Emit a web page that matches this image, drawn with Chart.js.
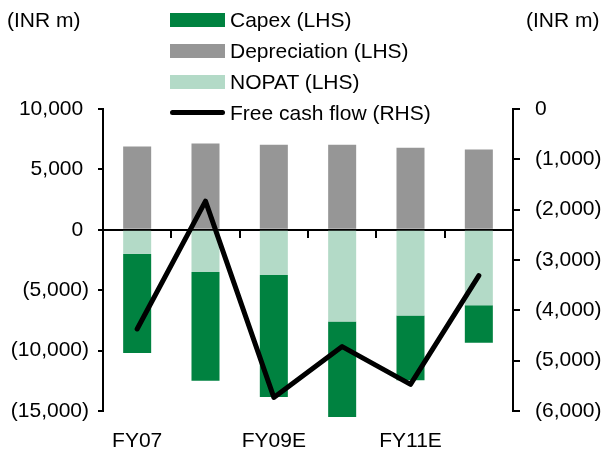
<!DOCTYPE html>
<html>
<head>
<meta charset="utf-8">
<script src="https://cdn.jsdelivr.net/npm/chart.js@4/dist/chart.umd.min.js"></script>
<style>
  html, body { margin: 0; padding: 0; background: #fff; }
  #wrap { position: relative; width: 605px; height: 456px; font-family: "Liberation Sans", Arial, sans-serif; color: #000; }
  #chart { position: absolute; left: 0; top: 0; }
  .unit { position: absolute; top: 8px; font-size: 21px; line-height: 24px; white-space: nowrap; }
  #legend { position: absolute; left: 170px; top: 8px; }
  .item { position: relative; height: 31px; font-size: 21px; line-height: 24px; white-space: nowrap; }
  .item .sw { position: absolute; left: 0; top: 5px; width: 55px; height: 14px; }
  .item .ln { position: absolute; left: 0; top: 9px; width: 55px; height: 5px; border-radius: 3px; }
  .item .tx { position: absolute; left: 60px; top: 0; }
</style>
</head>
<body>
<div id="wrap">
  <canvas id="chart" width="605" height="456"></canvas>
  <div class="unit" style="left:7px">(INR m)</div>
  <div class="unit" style="left:526px">(INR m)</div>
  <div id="legend"></div>
</div>
<script>
// Fiscal years
const categories = ['FY07', 'FY08E', 'FY09E', 'FY10E', 'FY11E', 'FY12E'];
// Left-hand series (INR m)
const capex = [-8200, -9000, -10100, -7900, -5350, -3100];
const depreciation = [6900, 7150, 7050, 7050, 6800, 6650];
const nopat = [-2000, -3500, -3750, -7600, -7100, -6250];
// Right-hand series (INR m)
const freeCashFlow = [-4370, -1830, -5730, -4720, -5470, -3310];

const seriesNames = ['Capex (LHS)', 'Depreciation (LHS)', 'NOPAT (LHS)', 'Free cash flow (RHS)'];
const colors = {
  capex: 'rgb(0,130,64)',
  depreciation: 'rgb(150,150,150)',
  nopat: 'rgb(179,218,199)',
  fcf: '#000'
};

const FONT = { family: '"Liberation Sans", Arial, sans-serif', size: 21 };

function fmt(v) {
  const s = Math.abs(v).toLocaleString('en-US');
  return v < 0 ? '(' + s + ')' : s + ' ';
}

const datasets = [
  {
    type: 'line', label: seriesNames[3], data: freeCashFlow, yAxisID: 'yR', xAxisID: 'x',
    borderColor: colors.fcf, borderWidth: 5, pointRadius: 0, tension: 0,
    borderCapStyle: 'round', borderJoinStyle: 'round', fill: false
  },
  { type: 'bar', label: seriesNames[2], data: nopat, backgroundColor: colors.nopat, yAxisID: 'yL', xAxisID: 'x', stack: 's' },
  // capex can run past the lowest tick, so it is not clipped to the plot area
  { type: 'bar', label: seriesNames[0], data: capex, backgroundColor: colors.capex, yAxisID: 'yL', xAxisID: 'x', stack: 's', clip: false },
  { type: 'bar', label: seriesNames[1], data: depreciation, backgroundColor: colors.depreciation, yAxisID: 'yL', xAxisID: 'x', stack: 's' }
];

const chart = new Chart(document.getElementById('chart'), {
  data: { labels: categories, datasets },
  options: {
    responsive: false,
    animation: false,
    layout: { padding: { top: 109, left: 0, right: 0, bottom: 0 } },
    datasets: { bar: { categoryPercentage: 1, barPercentage: 0.41 } },
    plugins: { legend: { display: false }, tooltip: { enabled: false } },
    scales: {
      x: {
        type: 'category', position: 'bottom', offset: true, stacked: true,
        grid: { display: false, drawTicks: false },
        border: { display: false },
        ticks: {
          autoSkip: false, maxRotation: 0, padding: 18, color: '#000', font: FONT,
          callback: (v, i) => (i % 2 === 0 ? categories[i] : '')
        },
        afterFit: s => { s.height = 45; }
      },
      x0: {
        type: 'category', position: { yL: 0 }, offset: true,
        grid: { offset: true, drawOnChartArea: false, drawTicks: true, tickLength: 7, color: '#000', lineWidth: 2 },
        border: { display: true, color: '#000', width: 2 },
        ticks: { display: false }
      },
      yL: {
        position: 'left', stacked: true, min: -15000, max: 10000,
        grid: { drawOnChartArea: false, drawTicks: true, tickLength: 5, color: '#000', lineWidth: 2 },
        border: { display: true, color: '#000', width: 2 },
        ticks: { stepSize: 5000, padding: 9, color: '#000', font: FONT, callback: v => fmt(v) },
        afterFit: s => { s.width = 103; }
      },
      yR: {
        position: 'right', min: -6000, max: 0,
        grid: { drawOnChartArea: false, drawTicks: true, tickLength: 7, color: '#000', lineWidth: 2 },
        border: { display: true, color: '#000', width: 2 },
        ticks: { stepSize: 1000, padding: 15, color: '#000', font: FONT, callback: v => fmt(v) },
        afterFit: s => { s.width = 92; }
      }
    }
  }
});

// Legend listing the series in their reading order
const legend = document.getElementById('legend');
seriesNames.forEach(name => {
  const ds = chart.data.datasets.find(d => d.label === name);
  const item = document.createElement('div');
  item.className = 'item';
  const mark = document.createElement('div');
  if (ds.type === 'line') {
    mark.className = 'ln';
    mark.style.background = ds.borderColor;
  } else {
    mark.className = 'sw';
    mark.style.background = ds.backgroundColor;
  }
  const text = document.createElement('div');
  text.className = 'tx';
  text.textContent = name;
  item.appendChild(mark);
  item.appendChild(text);
  legend.appendChild(item);
});
</script>
</body>
</html>
